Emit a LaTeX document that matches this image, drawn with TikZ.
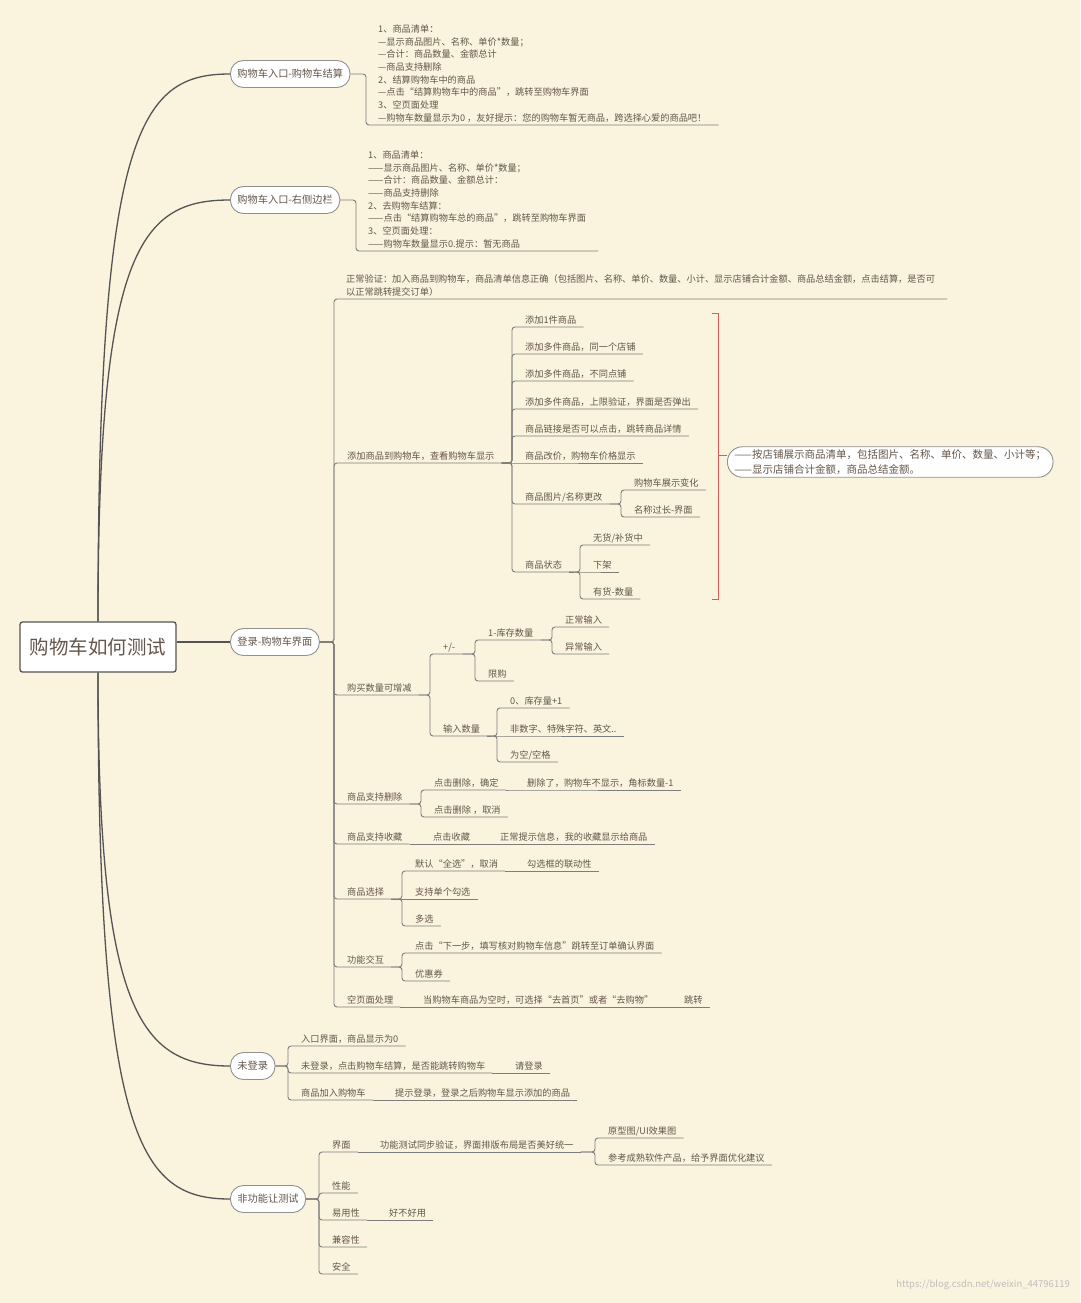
\documentclass[tikz,border=0pt]{standalone}
\usepackage{fontspec}
\usepackage{xcolor}
\usepackage{tikz}
\newfontfamily\cjk{Noto Sans CJK SC}
\definecolor{paper}{RGB}{250,243,222}
\definecolor{inkbrown}{RGB}{100,86,74}
\definecolor{linegray}{RGB}{125,125,125}
\definecolor{trunkgray}{RGB}{84,84,84}
\definecolor{pillgray}{RGB}{145,145,145}
\definecolor{bracered}{RGB}{228,88,88}
\definecolor{markgray}{RGB}{190,190,190}
\newcommand{\leaffont}{\cjk\fontsize{9.2}{12.7}\selectfont}
\tikzset{
  rootnode/.style={rectangle,rounded corners=2.5pt,draw=trunkgray,line width=1.3pt,
    fill=white,minimum width=156pt,minimum height=50pt,inner sep=0pt,
    text=inkbrown,font=\cjk\fontsize{19.5}{22}\selectfont},
  branchnode/.style={rectangle,rounded corners=13pt,draw=pillgray,line width=0.9pt,
    fill=white,minimum height=27pt,inner xsep=7pt,anchor=west,
    text=inkbrown,font=\cjk\fontsize{10.2}{12}\selectfont},
  topicnode/.style={anchor=south west,inner xsep=0pt,inner ysep=3.5pt,text depth=0pt,
    text=inkbrown,font=\leaffont,
    execute at begin node={\kern13pt},execute at end node={\kern7pt}},
  blocknode/.style={anchor=south west,align=left,inner xsep=12pt,inner ysep=3.5pt,
    text depth=0pt,text=inkbrown,font=\leaffont},
  summarynode/.style={rectangle,rounded corners=15pt,draw=pillgray,line width=0.9pt,
    fill=white,anchor=west,align=left,inner xsep=7pt,inner ysep=3pt,
    text=inkbrown,font=\cjk\fontsize{10.5}{14.5}\selectfont},
  marknode/.style={anchor=east,inner sep=0pt,text=markgray,
    font=\cjk\fontsize{9.5}{11}\selectfont},
  mainedge/.style={line width=1.3pt,trunkgray},
  linkedge/.style={line width=0.9pt,linegray,rounded corners=3pt},
  braceedge/.style={line width=0.8pt,bracered}
}

\begin{document}
\begin{tikzpicture}[x=1pt,y=-1pt]
  \newcommand{\branchto}[2]{\draw[linkedge] (#1.east) -| (#2.south west) -- (#2.south east);}
  \newcommand{\linkto}[2]{\draw[linkedge] (#1.south east) -| (#2.south west) -- (#2.south east);}
  \newcommand{\chainto}[2]{\draw[linkedge] (#1.south east) -- (#2.south west) -- (#2.south east);}

  \fill[paper] (0,0) rectangle (1080,1303);
  \useasboundingbox (0,0) rectangle (1080,1303);

  \node[rootnode] (root) at (98,647) {购物车如何测试};

  \node[branchnode] (cart1) at (230,74) {购物车入口-购物车结算};
  \node[branchnode] (cart2) at (230,200) {购物车入口-右侧边栏};
  \node[branchnode] (login) at (230,642) {登录-购物车界面};
  \node[branchnode] (guest) at (230,1066) {未登录};
  \node[branchnode] (nonfn) at (230,1199) {非功能让测试};

  \draw[mainedge] (root.north) .. controls (98,130) and (140,74) .. (cart1.west);
  \draw[mainedge] (root.north) .. controls (98,250) and (140,200) .. (cart2.west);
  \draw[mainedge] (root.east |- login.west) -- (login.west);
  \draw[mainedge] (root.south) .. controls (98,1010) and (140,1066) .. (guest.west);
  \draw[mainedge] (root.south) .. controls (98,1140) and (140,1199) .. (nonfn.west);

  \node[blocknode] (cartlist) at (366,125) {1、商品清单：\\
    —显示商品图片、名称、单价*数量；\\
    —合计：商品数量、金额总计\\
    —商品支持删除\\
    2、结算购物车中的商品\\
    —点击“结算购物车中的商品”，跳转至购物车界面\\
    3、空页面处理\\
    —购物车数量显示为0 ，友好提示：您的购物车暂无商品，跨选择心爱的商品吧！};
  \node[blocknode] (sidelist) at (356,251) {1、商品清单：\\
    ——显示商品图片、名称、单价*数量；\\
    ——合计：商品数量、金额总计：\\
    ——商品支持删除\\
    2、去购物车结算：\\
    ——点击“结算购物车总的商品”，跳转至购物车界面\\
    3、空页面处理：\\
    ——购物车数量显示0.提示：暂无商品};
  \branchto{cart1}{cartlist}
  \branchto{cart2}{sidelist}

  \node[blocknode] (normal) at (334,299) {正常验证：加入商品到购物车，商品清单信息正确（包括图片、名称、单价、数量、小计、显示店铺合计金额、商品总结金额，点击结算，是否可\\以正常跳转提交订单）};
  \node[topicnode] (addcart) at (334,463) {添加商品到购物车，查看购物车显示};
  \node[topicnode] (qty) at (334,695) {购买数量可增减};
  \node[topicnode] (delete) at (334,804) {商品支持删除};
  \node[topicnode] (fav) at (334,844) {商品支持收藏};
  \node[topicnode] (select) at (334,899) {商品选择};
  \node[topicnode] (action) at (334,967) {功能交互};
  \node[topicnode] (empty) at (334,1007) {空页面处理};
  \foreach \c in {normal,addcart,qty,delete,fav,select,action,empty} {\branchto{login}{\c}}

  \node[topicnode] (add1) at (512,327) {添加1件商品};
  \node[topicnode] (addsame) at (512,354) {添加多件商品，同一个店铺};
  \node[topicnode] (adddiff) at (512,381) {添加多件商品，不同点铺};
  \node[topicnode] (addmax) at (512,409) {添加多件商品，上限验证，界面是否弹出};
  \node[topicnode] (goodslink) at (512,436) {商品链接是否可以点击，跳转商品详情};
  \node[topicnode] (price) at (512,463) {商品改价，购物车价格显示};
  \node[topicnode] (rename) at (512,504) {商品图片/名称更改};
  \node[topicnode] (status) at (512,572) {商品状态};
  \foreach \c in {add1,addsame,adddiff,addmax,goodslink,rename,status} {\linkto{addcart}{\c}}
  \chainto{addcart}{price}

  \node[topicnode] (show) at (621,490) {购物车展示变化};
  \node[topicnode] (longname) at (621,517) {名称过长-界面};
  \foreach \c in {show,longname} {\linkto{rename}{\c}}

  \node[topicnode] (nostock) at (580,545) {无货/补货中};
  \node[topicnode] (offshelf) at (580,572) {下架};
  \node[topicnode] (instock) at (580,599) {有货-数量};
  \foreach \c in {nostock,instock} {\linkto{status}{\c}}
  \chainto{status}{offshelf}

  \draw[braceedge] (712,313) -| (718,599) -- (712,599);
  \node[summarynode] (summary) at (727,462) {——按店铺展示商品清单，包括图片、名称、单价、数量、小计等；\\
    ——显示店铺合计金额，商品总结金额。};
  \coordinate (bracetip) at (718,455);
  \draw[braceedge] (bracetip) -- (bracetip -| summary.west);

  \node[topicnode] (plusminus) at (430,654) {+/-};
  \node[topicnode] (inputqty) at (430,736) {输入数量};
  \foreach \c in {plusminus,inputqty} {\linkto{qty}{\c}}
  \node[topicnode] (stock) at (475,640) {1-库存数量};
  \node[topicnode] (limit) at (475,681) {限购};
  \foreach \c in {stock,limit} {\linkto{plusminus}{\c}}
  \node[topicnode] (normalin) at (552,627) {正常输入};
  \node[topicnode] (badin) at (552,654) {异常输入};
  \foreach \c in {normalin,badin} {\linkto{stock}{\c}}
  \node[topicnode] (zero) at (497,708) {0、库存量+1};
  \node[topicnode] (nonnum) at (497,736) {非数字、特殊字符、英文..};
  \node[topicnode] (blank) at (497,762) {为空/空格};
  \foreach \c in {zero,blank} {\linkto{inputqty}{\c}}
  \chainto{inputqty}{nonnum}

  \node[topicnode] (delok) at (421,790) {点击删除，确定};
  \node[topicnode] (delgone) at (514,790) {删除了，购物车不显示，角标数量-1};
  \node[topicnode] (delcancel) at (421,817) {点击删除 ，取消};
  \foreach \c in {delok,delcancel} {\linkto{delete}{\c}}
  \chainto{delok}{delgone}

  \node[topicnode] (favclick) at (420,844) {点击收藏};
  \node[topicnode] (favtip) at (487,844) {正常提示信息，我的收藏显示给商品};
  \chainto{fav}{favclick}
  \chainto{favclick}{favtip}

  \node[topicnode] (selall) at (402,871) {默认“全选”，取消};
  \node[topicnode] (selsync) at (514,871) {勾选框的联动性};
  \node[topicnode] (selone) at (402,899) {支持单个勾选};
  \node[topicnode] (selmulti) at (402,926) {多选};
  \foreach \c in {selall,selmulti} {\linkto{select}{\c}}
  \chainto{select}{selone}
  \chainto{selall}{selsync}

  \node[topicnode] (nextstep) at (402,953) {点击“下一步，填写核对购物车信息”跳转至订单确认界面};
  \node[topicnode] (coupon) at (402,981) {优惠券};
  \foreach \c in {nextstep,coupon} {\linkto{action}{\c}}

  \node[topicnode] (emptytip) at (410,1007) {当购物车商品为空时，可选择“去首页”或者“去购物”};
  \node[topicnode] (emptyjump) at (671,1007) {跳转};
  \chainto{empty}{emptytip}
  \chainto{emptytip}{emptyjump}

  \node[topicnode] (entry) at (288,1046) {入口界面，商品显示为0};
  \node[topicnode] (guestpay) at (288,1073) {未登录，点击购物车结算，是否能跳转购物车};
  \node[topicnode] (pleaselogin) at (502,1073) {请登录};
  \node[topicnode] (guestadd) at (288,1100) {商品加入购物车};
  \node[topicnode] (loginhint) at (382,1100) {提示登录，登录之后购物车显示添加的商品};
  \foreach \c in {entry,guestpay,guestadd} {\branchto{guest}{\c}}
  \chainto{guestpay}{pleaselogin}
  \chainto{guestadd}{loginhint}

  \node[topicnode] (ui) at (319,1152) {界面};
  \node[topicnode] (uicheck) at (367,1152) {功能测试同步验证，界面排版布局是否美好统一};
  \node[topicnode] (proto) at (595,1138) {原型图/UI效果图};
  \node[topicnode] (advice) at (595,1165) {参考成熟软件产品，给予界面优化建议};
  \node[topicnode] (perf) at (319,1193) {性能};
  \node[topicnode] (usable) at (319,1220) {易用性};
  \node[topicnode] (usefeel) at (376,1220) {好不好用};
  \node[topicnode] (compat) at (319,1247) {兼容性};
  \node[topicnode] (secure) at (319,1274) {安全};
  \foreach \c in {ui,perf,usable,compat,secure} {\branchto{nonfn}{\c}}
  \chainto{ui}{uicheck}
  \foreach \c in {proto,advice} {\linkto{uicheck}{\c}}
  \chainto{usable}{usefeel}

  \node[marknode] (watermark) at (1070,1285) {https://blog.csdn.net/weixin\_44796119};
\end{tikzpicture}
\end{document}
